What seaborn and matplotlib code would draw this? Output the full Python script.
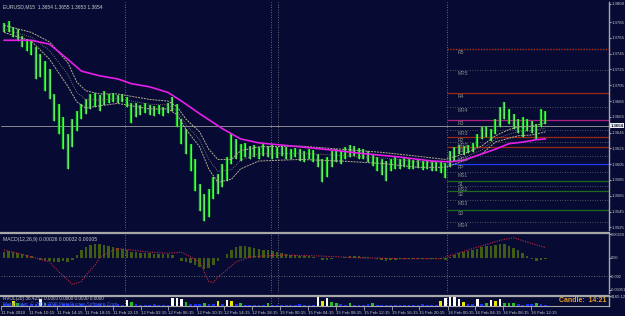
import numpy as np
import matplotlib
matplotlib.use("Agg")
import matplotlib.pyplot as plt
import seaborn as sns

sns.set_theme(style="dark")
plt.rcParams['font.family'] = ['Liberation Sans', 'DejaVu Sans']
NARROW = ['Liberation Sans', 'DejaVu Sans']

# ---------------- data (EURUSD M15) ----------------
highs = [1.3784, 1.3786, 1.3779, 1.3776, 1.3768, 1.3763, 1.3761, 1.3753, 1.3745, 1.3736,
         1.3726, 1.3694, 1.3681, 1.3665, 1.3643, 1.3662, 1.3672, 1.3681, 1.3688, 1.3694,
         1.3695, 1.3693, 1.3698, 1.3694, 1.3695, 1.3693, 1.3694, 1.3690, 1.3682, 1.3683,
         1.3680, 1.3682, 1.3680, 1.3679, 1.3680, 1.3677, 1.3682, 1.3690, 1.3681, 1.3662,
         1.3650, 1.3631, 1.3612, 1.3580, 1.3567, 1.3574, 1.3589, 1.3593, 1.3605, 1.3614,
         1.3643, 1.3637, 1.3631, 1.3632, 1.3628, 1.3629, 1.3627, 1.3631, 1.3628, 1.3629,
         1.3627, 1.3628, 1.3627, 1.3624, 1.3625, 1.3624, 1.3622, 1.3624, 1.3623, 1.3618,
         1.3612, 1.3614, 1.3622, 1.3624, 1.3622, 1.3627, 1.3629, 1.3628, 1.3625, 1.3624,
         1.3622, 1.3618, 1.3614, 1.3612, 1.3609, 1.3612, 1.3614, 1.3612, 1.3613, 1.3612,
         1.3610, 1.3612, 1.3609, 1.3610, 1.3609, 1.3608, 1.3609, 1.3606, 1.3622, 1.3627,
         1.3629, 1.3628, 1.3629, 1.3632, 1.3643, 1.3652, 1.3654, 1.3650, 1.3662, 1.3677,
         1.3684, 1.3675, 1.3669, 1.3662, 1.3665, 1.3662, 1.3660, 1.3656, 1.3675, 1.3673]
lows = [1.3772, 1.3773, 1.3766, 1.3761, 1.3753, 1.3748, 1.3743, 1.3713, 1.3715, 1.3698,
        1.3688, 1.3660, 1.3643, 1.3624, 1.3599, 1.3627, 1.3647, 1.3662, 1.3669, 1.3675,
        1.3677, 1.3672, 1.3680, 1.3682, 1.3684, 1.3682, 1.3684, 1.3677, 1.3657, 1.3665,
        1.3667, 1.3670, 1.3667, 1.3666, 1.3668, 1.3666, 1.3670, 1.3672, 1.3652, 1.3631,
        1.3618, 1.3596, 1.3571, 1.3546, 1.3533, 1.3538, 1.3561, 1.3567, 1.3576, 1.3584,
        1.3605, 1.3612, 1.3609, 1.3614, 1.3612, 1.3614, 1.3612, 1.3615, 1.3614, 1.3612,
        1.3613, 1.3615, 1.3612, 1.3612, 1.3614, 1.3609, 1.3608, 1.3612, 1.3608, 1.3601,
        1.3582, 1.3589, 1.3601, 1.3608, 1.3605, 1.3612, 1.3614, 1.3615, 1.3612, 1.3612,
        1.3608, 1.3603, 1.3596, 1.3591, 1.3584, 1.3596, 1.3599, 1.3599, 1.3601, 1.3599,
        1.3599, 1.3600, 1.3598, 1.3599, 1.3596, 1.3596, 1.3594, 1.3587, 1.3601, 1.3609,
        1.3618, 1.3617, 1.3619, 1.3620, 1.3627, 1.3637, 1.3639, 1.3634, 1.3643, 1.3652,
        1.3662, 1.3656, 1.3650, 1.3644, 1.3639, 1.3647, 1.3644, 1.3637, 1.3652, 1.3656]

# slow moving average (magenta), sampled at bar positions
ma_slow_bar = [0, 6, 10, 14, 17, 21, 25, 28, 32, 36, 39, 43, 48, 52, 56, 65, 72, 78, 87,
               94, 98, 101, 105, 108, 111, 114, 117, 119]
ma_slow = [1.3762, 1.3762, 1.3757, 1.3738, 1.3723, 1.3717, 1.3713, 1.3707, 1.3703, 1.3696,
           1.3685, 1.3669, 1.3650, 1.3637, 1.3632, 1.3627, 1.3623, 1.3619, 1.3614, 1.3609,
           1.3608, 1.3610, 1.3618, 1.3624, 1.3631, 1.3633, 1.3636, 1.3637]

# envelope around the fast average (upper / middle / lower)
env_bar = [0, 6, 10, 14, 16, 18, 21, 25, 28, 32, 36, 38, 40, 43, 45, 47, 50, 52, 56, 65,
           74, 83, 91, 97, 101, 105, 108, 111, 113, 116, 119]
env_upper = [1.3781, 1.3772, 1.3760, 1.3734, 1.3709, 1.3698, 1.3694, 1.3694, 1.3691, 1.3687,
             1.3685, 1.3678, 1.3662, 1.3646, 1.3624, 1.3611, 1.3611, 1.3622, 1.3627, 1.3628,
             1.3624, 1.3620, 1.3615, 1.3611, 1.3618, 1.3628, 1.3641, 1.3649, 1.3652, 1.3653, 1.3657]
env_mid = [1.3776, 1.3766, 1.3749, 1.3719, 1.3696, 1.3687, 1.3686, 1.3688, 1.3685, 1.3681,
           1.3680, 1.3673, 1.3655, 1.3636, 1.3611, 1.3596, 1.3598, 1.3610, 1.3618, 1.3619,
           1.3616, 1.3613, 1.3608, 1.3606, 1.3613, 1.3623, 1.3637, 1.3643, 1.3646, 1.3647, 1.3651]
env_lower = [1.3772, 1.3761, 1.3738, 1.3704, 1.3684, 1.3676, 1.3679, 1.3682, 1.3679, 1.3675,
             1.3675, 1.3668, 1.3649, 1.3627, 1.3599, 1.3582, 1.3586, 1.3599, 1.3609, 1.3611,
             1.3609, 1.3606, 1.3601, 1.3601, 1.3609, 1.3618, 1.3633, 1.3638, 1.3641, 1.3642, 1.3646]

current_price = 1.3654
price_ticks = [1.3808, 1.3785, 1.3765, 1.3745, 1.3725, 1.3705, 1.3685, 1.3665, 1.3645,
               1.3625, 1.3605, 1.3585, 1.3565, 1.3545, 1.3525]

# pivot levels
pivot_names = ["R5", "MR5", "R4", "MR4", "R3", "MR3", "R2", "MR2", "R1", "MR1", "PP",
               "MS1", "S1", "MS2", "S2", "MS3", "S3", "MS4"]
pivot_prices = [1.3751, 1.3724, 1.3695, 1.3677, 1.3661, 1.3648, 1.3639, 1.3633, 1.3627,
                1.3615, 1.3605, 1.3595, 1.3584, 1.3577, 1.3571, 1.3559, 1.3547, 1.3532]
pivot_start_bar = 97.4

# day separators (bar positions)
separators = [26.6, 58.7, 60.2, 97.4]

# MACD histogram (units of 1e-4) and signal line
macd_hist_e4 = [6, 7, 6, 5, 4, 3, 2, 0, -2, -3, -4, -5, -5, -4, -5, -2, 3, 8, 12, 14,
                15, 15, 14, 13, 12, 11, 10, 8, 6, 6, 5, 5, 5, 4, 4, 4, 4, 3, 0, -3,
                -5, -6, -8, -10, -12, -11, -8, -4, 0, 4, 9, 12, 13, 13, 12, 11, 10, 9, 8, 7,
                6, 5, 4, 3, 3, 2, 2, 2, 1, 0, -2, -2, -1, 0, 0, 1, 2, 2, 2, 1,
                1, 0, -1, -2, -3, -2, -2, -1, -1, -1, -1, -1, -1, -1, -1, -1, -1, -2, 1, 3,
                5, 6, 7, 8, 10, 12, 13, 13, 14, 15, 15, 13, 11, 8, 5, 2, -1, -3, -2, -1]
signal_bar = [0, 3, 6, 10, 12, 14, 15, 17, 18, 20, 21, 23, 25, 28, 32, 36, 39, 41, 43, 45,
              46, 47, 49, 51, 54, 61, 69, 78, 87, 96, 102, 109, 112, 115, 119]
signal = [0.00085, 0.0005, 0.0001, -0.00045, -0.0015, -0.0024, -0.0029, -0.0026, -0.0019,
          -0.0008, 0.0, 0.0006, 0.001, 0.00085, 0.0006, 0.0005, 0.0006, 0.0001, -0.00045,
          -0.0026, -0.0027, -0.0021, -0.0013, -0.00045, 0.0001, 0.0003, 0.0002, 0.0, -0.0001,
          -0.0001, 0.00085, 0.0019, 0.0022, 0.0017, 0.0011]
macd_ticks = [0.00259, 0.0, -0.002, -0.00351]
macd_tick_labels = ["0.00259", "0.00", "-0.002", "-0.00351"]

# volume
volume = [500, 600, 1600, 1100, 500, 400, 500, 600, 2200, 1000,
          600, 500, 400, 500, 600, 500, 400, 500, 400, 300,
          400, 500, 400, 300, 400, 500, 400, 2000, 1200, 500,
          400, 300, 400, 500, 400, 300, 400, 2400, 2600, 2300,
          1200, 600, 500, 600, 900, 600, 500, 1500, 600, 2000,
          1500, 500, 1000, 400, 300, 400, 300, 400, 1000, 400,
          300, 400, 300, 400, 300, 500, 400, 300, 400, 2800,
          1600, 2600, 1200, 1000, 500, 400, 900, 400, 300, 400,
          500, 900, 400, 300, 400, 300, 400, 300, 400, 300,
          400, 300, 500, 400, 300, 400, 1500, 2500, 3100, 2700,
          2200, 1400, 600, 500, 2300, 500, 900, 2000, 1500, 2100,
          1000, 1000, 1000, 500, 400, 500, 600, 900, 500, 400]
vol_max = 3165.12

time_label_bars = [-0.7, 5.5, 11.6, 17.8, 23.9, 30.0, 36.1, 42.4, 48.4, 54.5,
                   60.7, 66.8, 73.0, 79.1, 85.2, 91.3, 97.5, 103.6, 109.7, 115.9]
time_labels = ["11 Feb 2010", "11 Feb 10:15", "11 Feb 14:15", "11 Feb 18:15", "11 Feb 22:15",
               "12 Feb 02:15", "12 Feb 06:15", "12 Feb 10:15", "12 Feb 14:15", "12 Feb 18:15",
               "15 Feb 00:15", "15 Feb 04:15", "15 Feb 08:15", "15 Feb 12:15", "15 Feb 16:15",
               "15 Feb 20:15", "16 Feb 00:15", "16 Feb 04:15", "16 Feb 08:15", "16 Feb 12:15"]

# ---------------- styling ----------------
BG = '#070b34'
FG = '#c8c8c8'
GRID = '#8a8a8a'
W, H = 625, 316
XL = (-0.66, 132.97)
TICKFS = 3.1


def rect(x0, y0, x1, y1):
    return [x0 / W, 1 - y1 / H, (x1 - x0) / W, (y1 - y0) / H]


fig = plt.figure(figsize=(6.25, 3.16), dpi=100, facecolor=BG)
ax = fig.add_axes(rect(1, 2, 609, 230))
axm = fig.add_axes(rect(1, 233, 609, 293))
axv = fig.add_axes(rect(1, 296, 609, 306))

for a in (ax, axm, axv):
    a.set_facecolor(BG)
    a.set_xlim(*XL)
    a.grid(False)
    for s in ('left', 'top', 'bottom'):
        a.spines[s].set_visible(False)
    a.spines['right'].set_color('#a8a8a8')
    a.spines['right'].set_linewidth(1.0)
    a.yaxis.tick_right()
    a.tick_params(axis='y', colors=FG, labelsize=TICKFS, length=1.2, width=0.6, pad=0.4,
                  direction='out', right=True, left=False)
    a.tick_params(axis='x', bottom=False, labelbottom=False)
    for sx in separators:
        a.axvline(sx, color=GRID, lw=0.6, ls=(0, (1, 2)))

bars = np.arange(len(highs))

# ---- main panel ----
ax.set_ylim(1.35216, 1.38105)
for name, p in zip(pivot_names, pivot_prices):
    if name.startswith('M'):
        col, ls, lw = '#6a6a6a', (0, (1, 2)), 0.6
    elif name == 'PP':
        col, ls, lw = '#1e3cff', '-', 0.9
    elif name == 'R5':
        col, ls, lw = '#b0341a', (0, (1, 1)), 1.0
    elif name == 'R3':
        col, ls, lw = '#b0207e', '-', 0.9
    elif name.startswith('R'):
        col, ls, lw = '#9a2812', '-', 0.9
    else:
        col, ls, lw = '#1d6a1d', '-', 0.9
    ax.hlines(p, pivot_start_bar, XL[1], color=col, lw=lw, linestyles=ls)
    ax.text(pivot_start_bar + 2.4, p - 0.00012, name, color='#8c8c8c', fontsize=3.6,
            va='top', ha='left')

ax.axhline(current_price, color='#8c8c8c', lw=0.7)

ax.vlines(bars, lows, highs, color='#1fcf1f', lw=1.7)
ax.vlines(bars, lows, highs, color='#8cff8c', lw=0.45)

sns.lineplot(x=env_bar, y=env_upper, ax=ax, color='#b4ad92', lw=0.7, linestyle=(0, (2, 1)),
             legend=False)
sns.lineplot(x=env_bar, y=env_mid, ax=ax, color='#8e8a78', lw=0.6, linestyle=(0, (1, 1.5)),
             legend=False)
sns.lineplot(x=env_bar, y=env_lower, ax=ax, color='#b4ad92', lw=0.7, linestyle=(0, (2, 1)),
             legend=False)
sns.lineplot(x=ma_slow_bar, y=ma_slow, ax=ax, color='#e81ee8', lw=1.2, legend=False)

ax.set_yticks(price_ticks)
ax.set_yticklabels([f"{t:.4f}" for t in price_ticks])
ax.set_ylabel('')
ax.text(1.003, current_price, f"{current_price:.4f}", transform=ax.get_yaxis_transform(),
        color=BG, fontsize=TICKFS, va='center', ha='left', fontweight='bold', family=NARROW,
        bbox=dict(boxstyle='square,pad=0.12', fc='#f0f0f0', ec='none'))
ax.text(0.004, 0.992, "EURUSD,M15  1.3654 1.3655 1.3653 1.3654", transform=ax.transAxes,
        color=FG, fontsize=3.6, va='top', ha='left')

# ---- MACD panel ----
axm.set_ylim(-0.00384, 0.0027)
axm.spines['top'].set_visible(True)
axm.spines['top'].set_color('#a8a8a8')
axm.spines['top'].set_linewidth(1.6)
axm.bar(bars, np.array(macd_hist_e4) * 1e-4, width=0.55, color='#3f5c12', linewidth=0)
axm.axhline(-0.002, color=GRID, lw=0.6, ls=(0, (1, 2)))
sns.lineplot(x=signal_bar, y=signal, ax=axm, color='#c8283c', lw=0.8, linestyle=(0, (1, 1.2)),
             legend=False)
axm.set_yticks(macd_ticks)
axm.set_yticklabels(macd_tick_labels)
axm.set_ylabel('')
for lab in axm.get_yticklabels():
    lab.set_fontsize(2.8)
axm.text(0.004, 0.93, "MACD(12,26,9) 0.00026 0.00032 0.00005", transform=axm.transAxes,
         color=FG, fontsize=3.6, va='top', ha='left')

# ---- volume panel ----
axv.set_ylim(0, vol_max)
axv.spines['top'].set_visible(True)
axv.spines['top'].set_color('#a8a8a8')
axv.spines['top'].set_linewidth(1.6)
axv.spines['bottom'].set_visible(True)
axv.spines['bottom'].set_color('#a8a8a8')
axv.spines['bottom'].set_linewidth(0.8)
vol = np.array(volume)
vcol = np.select([vol < 800, vol < 1400, vol < 2000], ['#1530ff', '#22c022', '#e6e600'], '#ffffff')
axv.bar(bars, vol, width=0.6, color=vcol, linewidth=0)
axv.set_yticks([vol_max])
axv.set_yticklabels(["3165.12"])
axv.text(0.004, 0.98, "RVOL(20) 36.4251 0.0000 0.0000 0.0000 0.0000", transform=axv.transAxes,
         color=FG, fontsize=3.4, va='top', ha='left')
axv.text(0.004, 0.22, "MetaTrader, \u00a9 2001-2009 MetaQuotes Software Corp.", transform=axv.transAxes,
         color='#3a5cff', fontsize=3.4, va='center', ha='left')
axv.text(0.995, 0.55, "Candle:  14:21", transform=axv.transAxes, color='#e8a020',
         fontsize=5, va='center', ha='right', fontweight='bold')
axv.set_xticks(time_label_bars)
axv.set_xticklabels(time_labels)
axv.tick_params(axis='x', bottom=True, labelbottom=True, colors=FG, labelsize=3.2,
                length=3, width=0.5, pad=0.3, direction='out')
for lab in axv.get_xticklabels():
    lab.set_ha('left')

fig.savefig('out.png', dpi=100, facecolor=BG)
